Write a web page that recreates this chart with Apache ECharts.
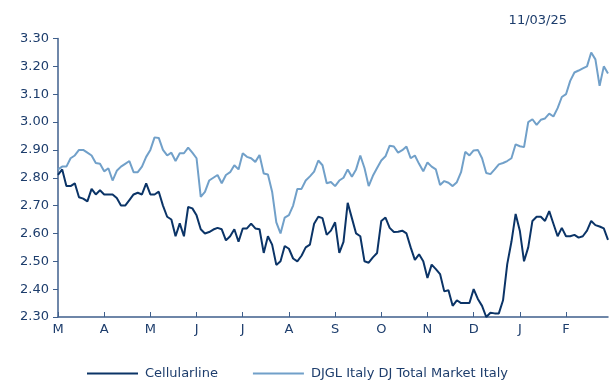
<!DOCTYPE html>
<html>
<head>
<meta charset="utf-8">
<style>
  html, body { margin: 0; padding: 0; background: #fff; }
  #main { width: 610px; height: 381px; }
</style>
<script src="https://cdn.jsdelivr.net/npm/echarts@6/dist/echarts.min.js"></script>
</head>
<body>
<div id="main"></div>
<script>
// etichette dei mesi (una ogni 11 punti)
const monthLabels = ['M', 'A', 'M', 'J', 'J', 'A', 'S', 'O', 'N', 'D', 'J', 'F'];
const pointsPerMonth = 11;

// Cellularline
const cellularline = [
    2.81, 2.83, 2.77, 2.77, 2.78, 2.73, 2.725, 2.715, 2.76, 2.74, 2.755,
    2.74, 2.74, 2.74, 2.727, 2.70, 2.70, 2.72, 2.74, 2.746, 2.74, 2.78,
    2.74, 2.74, 2.75, 2.70, 2.66, 2.65, 2.59, 2.636, 2.59, 2.695, 2.69,
    2.665, 2.615, 2.60, 2.605, 2.614, 2.62, 2.615, 2.575, 2.59, 2.615, 2.57,
    2.618, 2.618, 2.635, 2.618, 2.615, 2.53, 2.59, 2.56, 2.487, 2.50, 2.555,
    2.545, 2.51, 2.50, 2.52, 2.55, 2.56, 2.635, 2.66, 2.655, 2.595, 2.61,
    2.64, 2.53, 2.57, 2.71, 2.655, 2.60, 2.59, 2.50, 2.495, 2.514, 2.53,
    2.645, 2.657, 2.62, 2.605, 2.606, 2.61, 2.60, 2.55, 2.505, 2.525, 2.50,
    2.44, 2.488, 2.472, 2.454, 2.392, 2.396, 2.34, 2.36, 2.35, 2.35, 2.35,
    2.40, 2.365, 2.34, 2.30, 2.315, 2.313, 2.313, 2.36, 2.49, 2.57, 2.67,
    2.61, 2.50, 2.55, 2.645, 2.66, 2.66, 2.645, 2.68, 2.635, 2.59, 2.62,
    2.59, 2.59, 2.595, 2.585, 2.59, 2.61, 2.645, 2.63, 2.625, 2.618, 2.577
];

// DJGL Italy DJ Total Market Italy (ribasato)
const djglItaly = [
    2.83, 2.84, 2.84, 2.87, 2.88, 2.90, 2.90, 2.89, 2.88, 2.853, 2.85,
    2.823, 2.834, 2.79, 2.825, 2.84, 2.85, 2.86, 2.82, 2.82, 2.84, 2.875,
    2.90, 2.945, 2.943, 2.90, 2.88, 2.89, 2.86, 2.888, 2.888, 2.908, 2.89,
    2.87, 2.731, 2.749, 2.79, 2.80, 2.81, 2.78, 2.81, 2.82, 2.845, 2.83,
    2.888, 2.875, 2.87, 2.857, 2.882, 2.815, 2.812, 2.75, 2.64, 2.60, 2.657,
    2.666, 2.70, 2.76, 2.76, 2.79, 2.805, 2.822, 2.862, 2.845, 2.78, 2.785,
    2.77, 2.79, 2.80, 2.83, 2.804, 2.83, 2.88, 2.835, 2.77, 2.807, 2.835,
    2.862, 2.877, 2.915, 2.912, 2.89, 2.899, 2.912, 2.87, 2.88, 2.85, 2.823,
    2.855, 2.84, 2.83, 2.774, 2.788, 2.782, 2.77, 2.784, 2.82, 2.893, 2.88,
    2.898, 2.90, 2.87, 2.817, 2.813, 2.83, 2.848, 2.853, 2.86, 2.87, 2.92,
    2.913, 2.91, 3.00, 3.01, 2.99, 3.008, 3.013, 3.03, 3.02, 3.05, 3.09,
    3.10, 3.148, 3.178, 3.185, 3.193, 3.20, 3.25, 3.225, 3.13, 3.20, 3.174
];

// asse x: un'etichetta di mese all'inizio di ogni blocco
const categories = cellularline.map(function (v, i) {
    return i % pointsPerMonth === 0 ? monthLabels[i / pointsPerMonth] : '';
});

const navy = '#0b3467';
const light = '#71a0c9';
const axisColor = '#3f5f8c';
const textColor = '#1d3d6c';

let chart = echarts.init(document.getElementById('main'));
chart.setOption({
    animation: false,
    title: {
        text: '11/03/25',
        right: 38,
        top: 9,
        textStyle: {
            fontFamily: 'DejaVu Sans',
            fontSize: 13,
            fontWeight: 'normal',
            color: textColor
        }
    },
    grid: {
        left: 58,
        right: 2,
        top: 38.5,
        bottom: 64
    },
    legend: {
        bottom: -4,
        left: 82,
        itemGap: 35,
        itemWidth: 51,
        itemHeight: 2,
        icon: 'rect',
        textStyle: {
            fontFamily: 'DejaVu Sans',
            fontSize: 13,
            color: textColor,
            padding: [0, 0, 0, 2]
        },
        data: ['Cellularline', 'DJGL Italy DJ Total Market Italy']
    },
    xAxis: {
        type: 'category',
        data: categories,
        boundaryGap: false,
        axisLine: { lineStyle: { color: axisColor, width: 1.5 } },
        axisTick: {
            inside: true,
            length: 5,
            interval: function (i) { return i % pointsPerMonth === 0; },
            lineStyle: { color: axisColor }
        },
        axisLabel: {
            interval: function (i) { return i % pointsPerMonth === 0; },
            fontFamily: 'DejaVu Sans',
            fontSize: 13,
            color: textColor,
            margin: 6
        },
        splitLine: { show: false }
    },
    yAxis: {
        type: 'value',
        min: 2.3,
        max: 3.3,
        interval: 0.1,
        axisLine: { show: true, lineStyle: { color: axisColor, width: 1.5 } },
        axisTick: { show: true, length: 5, lineStyle: { color: axisColor } },
        axisLabel: {
            formatter: function (v) { return v.toFixed(2); },
            fontFamily: 'DejaVu Sans',
            fontSize: 13,
            color: textColor,
            margin: 9
        },
        splitLine: { show: false }
    },
    series: [
        {
            name: 'Cellularline',
            type: 'line',
            data: cellularline,
            showSymbol: false,
            lineStyle: { color: navy, width: 2 },
            itemStyle: { color: navy }
        },
        {
            name: 'DJGL Italy DJ Total Market Italy',
            type: 'line',
            data: djglItaly,
            showSymbol: false,
            lineStyle: { color: light, width: 2 },
            itemStyle: { color: light }
        }
    ]
});
</script>
</body>
</html>
